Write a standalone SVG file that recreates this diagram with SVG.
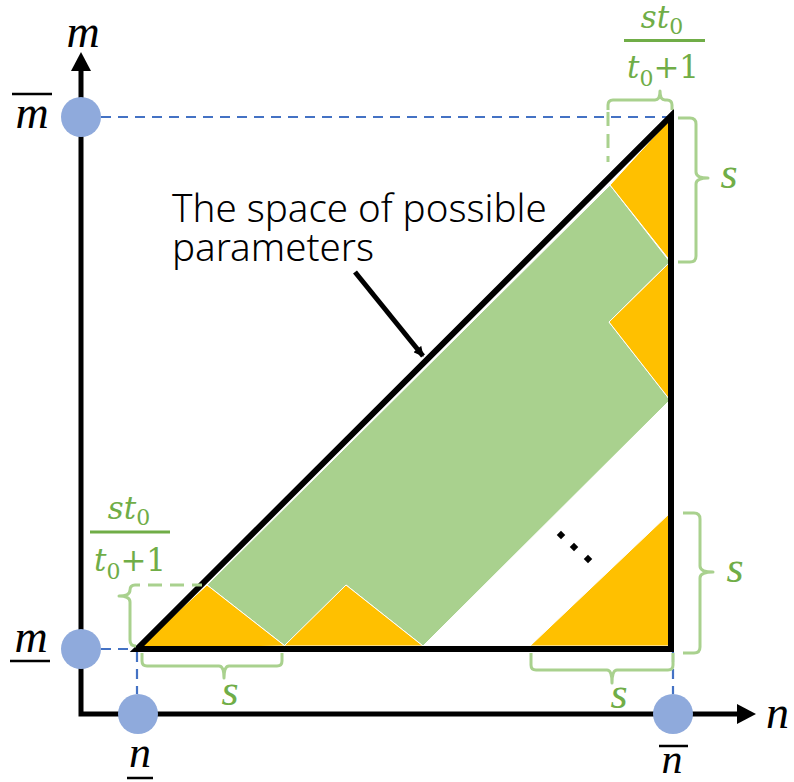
<svg xmlns="http://www.w3.org/2000/svg" width="794" height="782" viewBox="0 0 794 782">
<defs>
<style>
.ax{stroke:#000;stroke-width:5;fill:none}
.dash{stroke:#4472C4;stroke-width:2.2;stroke-dasharray:10 7;fill:none}
.pt{fill:#8FAADC}
.brace{stroke:#A9D18E;stroke-width:3;fill:none;stroke-linejoin:round}
.gdash{stroke:#A9D18E;stroke-width:3;fill:none;stroke-dasharray:14 8}
.grn{fill:#A9D18E;stroke:#fff;stroke-width:1}
.org{fill:#FFC000;stroke:#fff;stroke-width:1}
.math{font-family:"Liberation Serif","DejaVu Serif",serif;font-style:italic}
.frac{font-family:"DejaVu Serif","Liberation Serif",serif;font-style:italic;font-size:31px;fill:#70AD47}
.sub{font-style:normal;font-size:22px}
.up{font-style:normal}
.gtxt{fill:#70AD47}
.bar{stroke:#000;stroke-width:2.5}
.gbar{stroke:#70AD47;stroke-width:3}
.lbl{font-family:"Noto Sans","Liberation Sans",sans-serif;font-weight:300;font-size:38.5px;fill:#000}
</style>
<marker id="ah" markerWidth="10" markerHeight="10" refX="9" refY="5" orient="auto" markerUnits="userSpaceOnUse" viewBox="0 0 10 10">
<path d="M0,0 L10,5 L0,10 Z" fill="#000"/>
</marker>
</defs>

<g id="axes">
<path class="ax" d="M81,70 L81,714 L738,714"/>
<path d="M81,52 L71,71 L91,71 Z" fill="#000"/>
<path d="M756,714 L737,704 L737,724 Z" fill="#000"/>
</g>

<g id="connectors">
<line class="dash" x1="101" y1="117" x2="668" y2="117"/>
<line class="dash" x1="101" y1="649" x2="137" y2="649"/>
<line class="dash" x1="137" y1="652" x2="137" y2="694"/>
<line class="dash" x1="673" y1="652" x2="673" y2="694"/>
<line x1="355" y1="272" x2="423" y2="356" stroke="#000" stroke-width="5" marker-end="url(#ah)"/>
</g>

<g id="regions">
<polygon class="grn" points="207,585 610,185 670,262 609,322 670,400 423,646 346,585 285,646"/>
<polygon class="org" points="610,185 671,118 671,262"/>
<polygon class="org" points="670,262 609,322 670,400"/>
<polygon class="org" points="137,649 207,585 285,646"/>
<polygon class="org" points="284,646 346,585 423,646"/>
<polygon class="org" points="530,646 670,513 670,646"/>
</g>

<g id="triangle">
<polygon points="137,649 671,116 671,649" fill="none" stroke="#000" stroke-width="6" stroke-linejoin="miter"/>
</g>

<g id="dots">
<rect x="558" y="532" width="6" height="6" transform="rotate(45 561 535)" fill="#000"/>
<rect x="571" y="544" width="6" height="6" transform="rotate(45 574 547)" fill="#000"/>
<rect x="585" y="556" width="6" height="6" transform="rotate(45 588 559)" fill="#000"/>
</g>

<g id="points">
<circle class="pt" cx="81" cy="117" r="20"/>
<circle class="pt" cx="81" cy="649" r="20"/>
<circle class="pt" cx="138" cy="714" r="20"/>
<circle class="pt" cx="673" cy="714" r="20"/>
</g>

<g id="braces">
<path class="brace" d="M608,110 L608,105 Q608,100 613,100 L655,100 Q660,100 660,91 Q660,100 665,100 L667,100 Q672,100 672,105 L672,110"/>
<line class="gdash" x1="608" y1="112" x2="608" y2="162"/>
<path class="brace" d="M678,118 L690,118 Q696,118 696,124 L696,172 Q696,178 708,178 Q696,178 696,184 L696,256 Q696,262 690,262 L678,262"/>
<path class="brace" d="M140,585 L135,585 Q130,585 130,590 Q130,596 119,596 Q130,596 130,602 L130,640 Q130,646 136,646"/>
<line class="gdash" x1="148" y1="585" x2="202" y2="585"/>
<path class="brace" d="M142,653 L142,661 Q142,666 147,666 L219,666 Q224,666 224,678 Q224,666 229,666 L277,666 Q282,666 282,661 L282,653"/>
<path class="brace" d="M531,653 L531,665 Q531,670 536,670 L607,670 Q612,670 612,683 Q612,670 617,670 L668,670 Q673,670 673,665 L673,653"/>
<path class="brace" d="M683,513 L694,513 Q700,513 700,519 L700,566 Q700,572 713,572 Q700,572 700,578 L700,647 Q700,653 694,653 L683,653"/>
</g>

<g id="labels">
<text class="math" x="83" y="47" font-size="46" text-anchor="middle">m</text>
<text class="math" x="32" y="128" font-size="46" text-anchor="middle">m</text>
<line class="bar" x1="12" y1="94" x2="52" y2="94"/>
<text class="math" x="31" y="652" font-size="46" text-anchor="middle">m</text>
<line class="bar" x1="10" y1="661" x2="50" y2="661"/>
<text class="math" x="140" y="767" font-size="44" text-anchor="middle">n</text>
<line class="bar" x1="127" y1="778" x2="153" y2="778"/>
<text class="math" x="672" y="773" font-size="42" text-anchor="middle">n</text>
<line class="bar" x1="659" y1="746" x2="688" y2="746"/>
<text class="math" x="766" y="728" font-size="46">n</text>

<text class="math gtxt" x="729" y="188" font-size="44" text-anchor="middle">s</text>
<text class="math gtxt" x="230" y="705" font-size="44" text-anchor="middle">s</text>
<text class="math gtxt" x="619" y="708" font-size="44" text-anchor="middle">s</text>
<text class="math gtxt" x="735" y="582" font-size="44" text-anchor="middle">s</text>

<text class="frac" x="662" y="28" text-anchor="middle">st<tspan class="sub" dy="6">0</tspan></text>
<line class="gbar" x1="624" y1="40.5" x2="705" y2="40.5"/>
<text class="frac" x="663" y="78" text-anchor="middle">t<tspan class="sub" dy="8">0</tspan><tspan class="up" dy="-8">+1</tspan></text>

<text class="frac" x="129" y="519" text-anchor="middle">st<tspan class="sub" dy="6">0</tspan></text>
<line class="gbar" x1="90" y1="532" x2="170" y2="532"/>
<text class="frac" x="130" y="571" text-anchor="middle">t<tspan class="sub" dy="8">0</tspan><tspan class="up" dy="-8">+1</tspan></text>

<text class="lbl"><tspan x="172" y="222">The space of possible</tspan><tspan x="172" y="261">parameters</tspan></text>
</g>
</svg>
